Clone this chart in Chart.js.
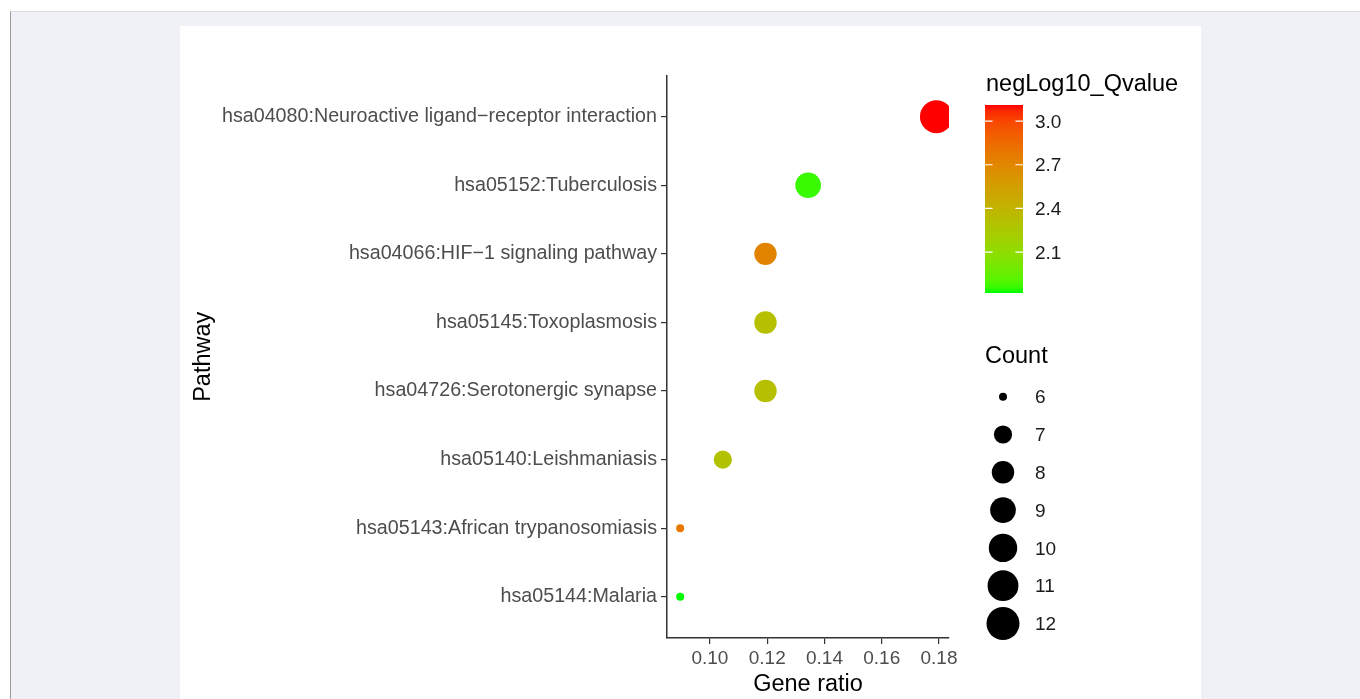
<!DOCTYPE html>
<html>
<head>
<meta charset="utf-8">
<script src="https://cdn.jsdelivr.net/npm/chart.js@4.4.1/dist/chart.umd.min.js"></script>
<style>
  html, body { margin: 0; padding: 0; background: #fff; }
  body { width: 1360px; height: 699px; position: relative; overflow: hidden; }
  #page { position: absolute; left: 10px; top: 11px; right: 0; bottom: 0; background: #f0f1f6; border-top: 1px solid #dcdde3; border-left: 1px solid #9a9a9a; }
  #card { position: absolute; left: 180px; top: 26px; width: 1021px; height: 673px; background: #fff; }
</style>
</head>
<body>
<div id="page"></div>
<div id="card"><canvas id="dotChart" width="1021" height="673"></canvas></div>
<script>
const FONT = "'Liberation Sans', Arial, sans-serif";

// data
const pathways = [
  'hsa04080:Neuroactive ligand\u2212receptor interaction',
  'hsa05152:Tuberculosis',
  'hsa04066:HIF\u22121 signaling pathway',
  'hsa05145:Toxoplasmosis',
  'hsa04726:Serotonergic synapse',
  'hsa05140:Leishmaniasis',
  'hsa05143:African trypanosomiasis',
  'hsa05144:Malaria'
];
const geneRatio = [0.1791, 0.1343, 0.1194, 0.1194, 0.1194, 0.1045, 0.0896, 0.0896];
const counts = [12, 9, 8, 8, 8, 7, 6, 6];
const negLog10Q = [3.11, 1.86, 2.72, 2.32, 2.32, 2.30, 2.78, 1.82];
const xTicks = [0.10, 0.12, 0.14, 0.16, 0.18];
const qTicks = [2.1, 2.4, 2.7, 3.0];
const countTicks = [6, 7, 8, 9, 10, 11, 12];

// colour scale green -> red, interpolated in Lab like ggplot
function toLin(c) { c /= 255; return c <= 0.04045 ? c / 12.92 : Math.pow((c + 0.055) / 1.055, 2.4); }
function fromLin(c) {
  c = c <= 0.0031308 ? 12.92 * c : 1.055 * Math.pow(c, 1 / 2.4) - 0.055;
  return Math.round(Math.max(0, Math.min(1, c)) * 255);
}
function rgbToLab(rgb) {
  const [r, g, b] = rgb.map(toLin);
  const x = (0.4124 * r + 0.3576 * g + 0.1805 * b) / 0.95047;
  const y = 0.2126 * r + 0.7152 * g + 0.0722 * b;
  const z = (0.0193 * r + 0.1192 * g + 0.9505 * b) / 1.08883;
  const f = t => t > 0.008856 ? Math.cbrt(t) : 7.787 * t + 16 / 116;
  return [116 * f(y) - 16, 500 * (f(x) - f(y)), 200 * (f(y) - f(z))];
}
function labToRgb([L, a, b]) {
  const fy = (L + 16) / 116, fx = fy + a / 500, fz = fy - b / 200;
  const inv = t => t * t * t > 0.008856 ? t * t * t : (t - 16 / 116) / 7.787;
  const x = inv(fx) * 0.95047, y = inv(fy), z = inv(fz) * 1.08883;
  const r = 3.2406 * x - 1.5372 * y - 0.4986 * z;
  const g = -0.9689 * x + 1.8758 * y + 0.0415 * z;
  const bl = 0.0557 * x - 0.2040 * y + 1.0570 * z;
  return 'rgb(' + fromLin(r) + ',' + fromLin(g) + ',' + fromLin(bl) + ')';
}
const labLow = rgbToLab([0, 255, 0]);
const labHigh = rgbToLab([255, 0, 0]);
const qMin = Math.min(...negLog10Q);
const qMax = Math.max(...negLog10Q);
function qColor(v) {
  const t = Math.max(0, Math.min(1, (v - qMin) / (qMax - qMin)));
  return labToRgb(labLow.map((l, i) => l + (labHigh[i] - l) * t));
}

// area scale for the dot size
const cMin = Math.min(...countTicks), cMax = Math.max(...countTicks);
function dotRadius(c) {
  return 4 + 12.5 * Math.sqrt((c - cMin) / (cMax - cMin));
}

const ggLegend = {
  id: 'ggLegend',
  afterDraw(chart) {
    const ctx = chart.ctx;
    ctx.save();
    ctx.textBaseline = 'middle';
    ctx.textAlign = 'left';

    // colour bar
    const bx = 805, by = 79, bw = 38, bh = 188;
    ctx.fillStyle = '#000';
    ctx.font = '23.5px ' + FONT;
    ctx.fillText('negLog10_Qvalue', 806, 59);
    const grad = ctx.createLinearGradient(0, by + bh, 0, by);
    for (let i = 0; i <= 30; i++) grad.addColorStop(i / 30, qColor(qMin + (qMax - qMin) * i / 30));
    ctx.fillStyle = grad;
    ctx.fillRect(bx, by, bw, bh);
    ctx.font = '19px ' + FONT;
    ctx.strokeStyle = '#fff';
    ctx.lineWidth = 1.2;
    qTicks.forEach(v => {
      const y = by + bh - (v - qMin) / (qMax - qMin) * bh;
      ctx.beginPath();
      ctx.moveTo(bx, y); ctx.lineTo(bx + 7.6, y);
      ctx.moveTo(bx + bw - 7.6, y); ctx.lineTo(bx + bw, y);
      ctx.stroke();
      ctx.fillStyle = '#1a1a1a';
      ctx.fillText(v.toFixed(1), 855, y + 1.5);
    });

    // size legend
    ctx.fillStyle = '#000';
    ctx.font = '23.5px ' + FONT;
    ctx.fillText('Count', 805, 331);
    ctx.font = '19px ' + FONT;
    countTicks.forEach((c, i) => {
      const y = 370.7 + i * 37.8;
      ctx.fillStyle = '#000';
      ctx.beginPath();
      ctx.arc(823, y, dotRadius(c), 0, Math.PI * 2);
      ctx.fill();
      ctx.fillStyle = '#1a1a1a';
      ctx.fillText(String(c), 855, y + 1.5);
    });
    ctx.restore();
  }
};

const points = pathways.map((p, i) => ({ x: geneRatio[i], y: i, r: dotRadius(counts[i]) }));

new Chart(document.getElementById('dotChart'), {
  type: 'bubble',
  data: {
    datasets: [{
      data: points,
      backgroundColor: negLog10Q.map(qColor),
      borderWidth: 0,
      hoverBorderWidth: 0,
      clip: 0
    }]
  },
  options: {
    responsive: false,
    animation: false,
    layout: { padding: { top: 49.5, right: 252, left: 0, bottom: 0 } },
    plugins: { legend: { display: false }, tooltip: { enabled: false } },
    scales: {
      x: {
        type: 'linear',
        min: 0.085,
        max: 0.1835,
        afterBuildTicks: s => { s.ticks = xTicks.map(v => ({ value: v })); },
        afterFit: s => { s.height = 61; },
        ticks: {
          callback: v => v.toFixed(2),
          color: '#4d4d4d',
          font: { family: FONT, size: 19 },
          padding: 3,
          maxRotation: 0
        },
        grid: { drawOnChartArea: false, drawTicks: true, tickLength: 6, color: '#333', lineWidth: 1.2 },
        border: { display: true, color: '#333', width: 1.5 },
        title: { display: true, text: 'Gene ratio', color: '#000', font: { family: FONT, size: 23.5 }, padding: { top: 0, bottom: 0 } }
      },
      y: {
        type: 'linear',
        reverse: true,
        min: -0.6,
        max: 7.6,
        afterBuildTicks: s => { s.ticks = pathways.map((p, i) => ({ value: i })); },
        afterFit: s => { s.width = 487; },
        ticks: {
          callback: v => pathways[v],
          color: '#4d4d4d',
          font: { family: FONT, size: 19.7 },
          padding: 4
        },
        grid: { drawOnChartArea: false, drawTicks: true, tickLength: 6, color: '#333', lineWidth: 1.2 },
        border: { display: true, color: '#333', width: 1.5 },
        title: { display: true, text: 'Pathway', color: '#000', font: { family: FONT, size: 23.5 }, padding: { top: 9, bottom: 0 } }
      }
    }
  },
  plugins: [ggLegend]
});
</script>
</body>
</html>
